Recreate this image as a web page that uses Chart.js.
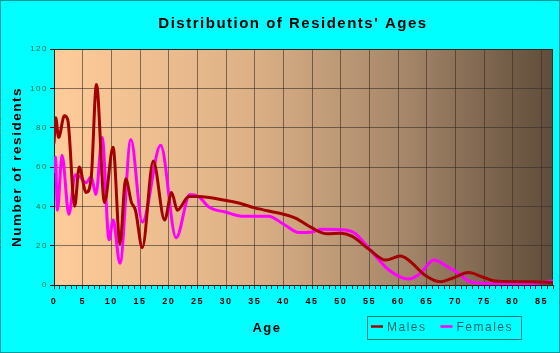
<!DOCTYPE html>
<html>
<head>
<meta charset="utf-8">
<script src="https://cdn.jsdelivr.net/npm/chart.js@4"></script>
<style>
  html, body { margin: 0; padding: 0; background: #00ffff; }
  canvas { display: block; }
</style>
</head>
<body>
<canvas id="grafico" width="560" height="353"></canvas>
<script>
// valores (edad, numero de residentes)
const edadesHombres = [0, 0.3, 0.8, 1.8, 2.4, 3.6, 4.4, 5.6, 6.5, 7.4, 8.8, 10.3, 11.5, 12.5, 13.5, 14.2, 15.4, 17.3, 19.3, 20.5, 21.5, 23.5, 25.2, 30, 32.2, 35, 40, 42.1, 45, 47.6, 50, 52, 55, 57.8, 60.4, 61.8, 64.7, 67.3, 69.4, 72.3, 74.6, 76.9, 79.8, 82.7, 86.1, 87];
const hombres = [72, 85, 75, 86, 84, 40, 60, 47, 55, 102, 42, 70, 21, 54, 42, 38, 19, 63, 33, 47, 38, 45, 45, 43, 41.7, 39.2, 36, 34, 29, 26, 26.3, 24.7, 18, 12.7, 14.7, 12.7, 5, 1.7, 3.4, 6.3, 4.2, 2, 1.7, 1.7, 1.4, 1.2];

const edadesMujeres = [0, 0.25, 0.6, 1.4, 2.6, 3.7, 4.5, 5.6, 6.5, 7.3, 8.4, 9.6, 10.3, 11.5, 13.4, 15.4, 18.6, 21.3, 23.7, 25.2, 27, 30, 32.8, 35, 37.4, 40, 42.7, 45, 46.7, 50.8, 52.6, 55, 58.4, 61.8, 63.9, 66.2, 68.8, 70.5, 72.3, 75.1, 79.8, 83.8, 87];
const mujeres = [57, 65, 38, 66, 36, 56, 55, 52, 55, 46, 75, 23, 33, 11, 74, 32, 71, 24, 46, 45, 39.7, 37, 35, 35, 35, 31, 26.7, 27, 28.3, 28, 26, 18.3, 7.6, 3, 6, 12.7, 9, 6, 2, 0.8, 0.5, 0.8, 2.2];

const etiquetasX = [0, 5, 10, 15, 20, 25, 30, 35, 40, 45, 50, 55, 60, 65, 70, 75, 80, 85];
const etiquetasY = [0, 20, 40, 60, 80, 100, 120];

const titulo = "Distribution of Residents' Ages";
const tituloX = 'Age';
const tituloY = 'Number of residents';

const fuente = "'Liberation Sans', Arial, sans-serif";
const colorRejilla = 'rgba(55, 45, 38, 0.6)';

function puntos(edades, valores) {
  return edades.map((e, i) => ({ x: e, y: valores[i] }));
}

const decorado = {
  id: 'decorado',
  beforeUpdate(chart) {
    chart.ctx.letterSpacing = '1.5px';
  },
  beforeDraw(chart) {
    const { ctx, chartArea: a } = chart;
    ctx.letterSpacing = '1.5px';
    const g = ctx.createLinearGradient(a.left, 0, a.right, 0);
    g.addColorStop(0, '#ffcc99');
    g.addColorStop(0.4, '#dcb086');
    g.addColorStop(0.7, '#a6876a');
    g.addColorStop(1, '#5f4c3a');
    ctx.save();
    ctx.fillStyle = g;
    ctx.fillRect(a.left, a.top, a.right - a.left, a.bottom - a.top);
    ctx.restore();
  },
  beforeDatasetsDraw(chart) {
    const { ctx, chartArea: a } = chart;
    ctx.save();
    ctx.strokeStyle = '#2a2520';
    ctx.lineWidth = 1;
    ctx.beginPath();
    ctx.moveTo(a.left, a.top + 0.5);
    ctx.lineTo(a.right - 0.5, a.top + 0.5);
    ctx.lineTo(a.right - 0.5, a.bottom);
    ctx.stroke();
    ctx.restore();
  },
  afterDraw(chart) {
    const ctx = chart.ctx;
    ctx.save();
    ctx.letterSpacing = '1.5px';
    ctx.textBaseline = 'alphabetic';

    // titulo
    ctx.fillStyle = '#000';
    ctx.textAlign = 'center';
    ctx.font = 'bold 15px ' + fuente;
    ctx.fillText(titulo, 293, 28);

    // titulo del eje x
    ctx.font = 'bold 13px ' + fuente;
    ctx.fillText(tituloX, 267, 332);

    // leyenda
    ctx.textAlign = 'left';
    ctx.font = '12px ' + fuente;
    ctx.strokeStyle = '#008080';
    ctx.lineWidth = 1;
    ctx.strokeRect(367.5, 316.5, 154, 23);
    let x = 371;
    chart.data.datasets.forEach(ds => {
      ctx.strokeStyle = ds.borderColor;
      ctx.lineWidth = 2.5;
      ctx.beginPath();
      ctx.moveTo(x, 326.5);
      ctx.lineTo(x + 12, 326.5);
      ctx.stroke();
      ctx.fillStyle = '#006666';
      ctx.fillText(ds.label, x + 16, 331);
      x += 16 + ctx.measureText(ds.label).width + 14;
    });

    // borde del lienzo
    ctx.strokeStyle = '#009a9a';
    ctx.lineWidth = 1;
    ctx.strokeRect(0.5, 0.5, chart.width - 1, chart.height - 1);
    ctx.restore();
  }
};

new Chart(document.getElementById('grafico'), {
  type: 'line',
  data: {
    datasets: [
      {
        label: 'Males',
        data: puntos(edadesHombres, hombres),
        borderColor: '#a30000',
        borderWidth: 3,
        pointRadius: 0,
        cubicInterpolationMode: 'monotone'
      },
      {
        label: 'Females',
        data: puntos(edadesMujeres, mujeres),
        borderColor: '#ff00ff',
        borderWidth: 3,
        pointRadius: 0,
        cubicInterpolationMode: 'monotone'
      }
    ]
  },
  options: {
    responsive: false,
    animation: false,
    layout: { padding: { top: 49, right: 5, bottom: 0, left: 0 } },
    plugins: {
      legend: { display: false },
      title: { display: false },
      tooltip: { enabled: false }
    },
    scales: {
      x: {
        type: 'linear',
        min: 0,
        max: 87,
        afterFit: s => { s.height = 68; },
        border: { color: '#222', width: 1 },
        grid: {
          color: c => (c.tick && etiquetasX.includes(c.tick.value)) ? colorRejilla : 'rgba(0,0,0,0)',
          tickColor: '#1a1a1a',
          tickWidth: 1,
          tickLength: 4
        },
        ticks: {
          stepSize: 1,
          autoSkip: false,
          maxRotation: 0,
          padding: 7,
          color: '#000',
          font: { family: fuente, size: 9, weight: 'bold' },
          callback: v => etiquetasX.includes(v) ? String(v) : ''
        }
      },
      y: {
        min: 0,
        max: 120,
        afterFit: s => { s.width = 54; },
        border: { color: '#222', width: 1 },
        grid: {
          color: colorRejilla,
          tickColor: '#1a1a1a',
          tickLength: 4
        },
        ticks: {
          stepSize: 20,
          padding: 2,
          color: '#00703c',
          font: { family: fuente, size: 8 },
          callback: v => etiquetasY.includes(v) ? String(v) : ''
        },
        title: {
          display: true,
          text: tituloY,
          color: '#000',
          padding: { top: 9, bottom: 0 },
          font: { family: fuente, size: 13.5, weight: 'bold' }
        }
      }
    }
  },
  plugins: [decorado]
});
</script>
</body>
</html>
